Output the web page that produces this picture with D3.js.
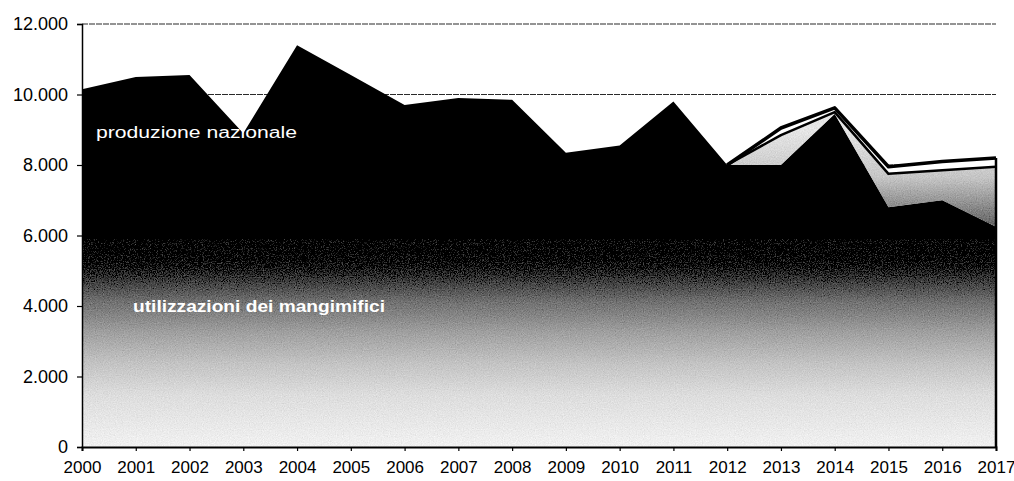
<!DOCTYPE html>
<html>
<head>
<meta charset="utf-8">
<script src="https://cdn.jsdelivr.net/npm/d3@7/dist/d3.min.js"></script>
<style>
  html, body { margin: 0; padding: 0; background: #fff; }
  svg { display: block; }
</style>
</head>
<body>
<svg id="chart" width="1014" height="481"></svg>
<script>
// ---- data ----
const years = [2000, 2001, 2002, 2003, 2004, 2005, 2006, 2007, 2008, 2009, 2010, 2011, 2012, 2013, 2014, 2015, 2016, 2017];
const produzioneNazionale = [10150, 10500, 10550, 8900, 11400, 10550, 9700, 9900, 9850, 8350, 8550, 9800, 8000, 8000, 9450, 6800, 7000, 6250];
const utilizzazioniMangimifici = [5900, 5900, 5900, 5900, 5900, 5900, 5900, 5900, 5900, 5900, 5900, 5900, 5900, 5900, 5900, 5900, 5900, 5900];
const seriesImport = [0, 0, 0, 0, 0, 0, 0, 0, 0, 0, 0, 0, 0, 850, 50, 950, 850, 1700];
const seriesOther = [0, 0, 0, 0, 0, 0, 0, 0, 0, 0, 0, 0, 0, 200, 120, 200, 250, 250];
const yTicks = [0, 2000, 4000, 6000, 8000, 10000, 12000];
const labelProduzione = "produzione nazionale";
const labelUtilizzazioni = "utilizzazioni dei mangimifici";

// ---- layout ----
const svg = d3.select("#chart");
const x = d3.scaleLinear().domain([2000, 2017]).range([82, 996]);
const y = d3.scaleLinear().domain([0, 12000]).range([447, 24]);
const itFmt = d3.formatLocale({decimal: ",", thousands: ".", grouping: [3], currency: ["€", ""]}).format(",");

const rows = years.map((yr, i) => ({
  year: yr,
  prod: produzioneNazionale[i],
  util: utilizzazioniMangimifici[i],
  imp: seriesImport[i],
  oth: seriesOther[i]
}));
rows.forEach(d => { d.impTop = d.prod + d.imp; d.othTop = d.impTop + d.oth; });

const defs = svg.append("defs");
const g1 = defs.append("linearGradient").attr("id", "gradUtil")
  .attr("gradientUnits", "userSpaceOnUse")
  .attr("x1", 0).attr("x2", 0).attr("y1", y(5900)).attr("y2", y(0));
[[0, "#000"], [0.06, "#000"], [0.15, "#2e2e2e"], [0.3, "#757575"], [0.45, "#a3a3a3"], [0.6, "#c6c6c6"], [0.75, "#dfdfdf"], [1, "#f3f3f3"]]
  .forEach(([o, c]) => g1.append("stop").attr("offset", o).attr("stop-color", c));
const g2 = defs.append("linearGradient").attr("id", "gradImp")
  .attr("gradientUnits", "userSpaceOnUse")
  .attr("x1", 0).attr("x2", 0).attr("y1", y(9000)).attr("y2", y(6300));
[[0, "#e8e8e8"], [0.5, "#c8c8c8"], [1, "#6a6a6a"]]
  .forEach(([o, c]) => g2.append("stop").attr("offset", o).attr("stop-color", c));

// grain filter imitating the scanned stipple
const f = defs.append("filter").attr("id", "grain")
  .attr("x", 0).attr("y", 0).attr("width", "100%").attr("height", "100%");
f.append("feTurbulence").attr("type", "fractalNoise").attr("baseFrequency", 0.85)
  .attr("numOctaves", 2).attr("seed", 7).attr("result", "noise");
f.append("feColorMatrix").attr("in", "noise").attr("type", "matrix")
  .attr("values", "0.33 0.33 0.33 0 0  0.33 0.33 0.33 0 0  0.33 0.33 0.33 0 0  0 0 0 0 1")
  .attr("result", "grey");
f.append("feComposite").attr("in", "SourceGraphic").attr("in2", "grey").attr("operator", "arithmetic")
  .attr("k1", 0).attr("k2", 1).attr("k3", 0.45).attr("k4", -0.24).attr("result", "mix");
f.append("feComposite").attr("in", "mix").attr("in2", "SourceGraphic").attr("operator", "in");

// gridlines
svg.append("g").selectAll("line").data(yTicks.filter(t => t > 0)).join("line")
  .attr("x1", x(2000)).attr("x2", x(2017))
  .attr("y1", d => y(d)).attr("y2", d => y(d))
  .attr("stroke", "#2a2a2a").attr("stroke-width", 1.2).attr("stroke-dasharray", "6,1");

// areas
const area = (lo, hi) => d3.area().x(d => x(d.year)).y0(d => y(lo(d))).y1(d => y(hi(d)));
svg.append("path").datum(rows).attr("fill", "#000")
  .attr("d", area(d => 0, d => d.prod));
svg.append("path").datum(rows).attr("fill", "#fff")
  .attr("d", area(d => d.impTop, d => d.othTop));
svg.append("path").datum(rows).attr("fill", "url(#gradImp)").attr("filter", "url(#grain)")
  .attr("d", area(d => d.prod, d => d.impTop));
svg.append("path").datum(rows).attr("fill", "url(#gradUtil)").attr("filter", "url(#grain)")
  .attr("d", area(d => 0, d => d.util));

const lineFrom2012 = acc => d3.line().defined(d => d.year >= 2012).x(d => x(d.year)).y(d => y(acc(d)));
svg.append("path").datum(rows).attr("fill", "none").attr("stroke", "#000").attr("stroke-width", 2.5)
  .attr("stroke-linejoin", "round").attr("d", lineFrom2012(d => d.impTop));
svg.append("path").datum(rows).attr("fill", "none").attr("stroke", "#000").attr("stroke-width", 3.5)
  .attr("stroke-linejoin", "round").attr("d", lineFrom2012(d => d.othTop));
// right edge of the stacked areas
const last = rows[rows.length - 1];
svg.append("line").attr("x1", x(last.year)).attr("x2", x(last.year))
  .attr("y1", y(0)).attr("y2", y(last.othTop)).attr("stroke", "#000").attr("stroke-width", 2.5);

// axes
const yAxis = d3.axisLeft(y).tickValues(yTicks).tickFormat(itFmt).tickSize(5).tickPadding(9);
const ya = svg.append("g").attr("transform", `translate(${x(2000)},0)`).call(yAxis);
ya.select(".domain").attr("stroke", "#000").attr("stroke-width", 1.5);
ya.selectAll(".tick line").attr("stroke", "#000").attr("stroke-width", 1.2);
ya.selectAll("text").attr("font-family", "'Liberation Sans', Arial, sans-serif").attr("font-size", 18).attr("fill", "#000");

const xAxis = d3.axisBottom(x).tickValues(years).tickFormat(d3.format("d")).tickSize(4).tickPadding(10);
const xa = svg.append("g").attr("transform", `translate(0,${y(0)})`).call(xAxis);
xa.select(".domain").attr("stroke", "#000").attr("stroke-width", 2);
xa.selectAll(".tick line").attr("stroke", "#000").attr("stroke-width", 1.2);
xa.selectAll("text").attr("font-family", "'Liberation Sans', Arial, sans-serif").attr("font-size", 17).attr("fill", "#000");

// labels
svg.append("text").attr("x", 96).attr("y", 138).attr("fill", "#fff")
  .attr("font-family", "'Liberation Sans', Arial, sans-serif").attr("font-size", 16)
  .attr("textLength", 201).attr("lengthAdjust", "spacingAndGlyphs").text(labelProduzione);
svg.append("text").attr("x", 133).attr("y", 312).attr("fill", "#fff")
  .attr("font-family", "'Liberation Sans', Arial, sans-serif").attr("font-size", 16).attr("font-weight", "bold")
  .attr("textLength", 252).attr("lengthAdjust", "spacingAndGlyphs").text(labelUtilizzazioni);
</script>
</body>
</html>
